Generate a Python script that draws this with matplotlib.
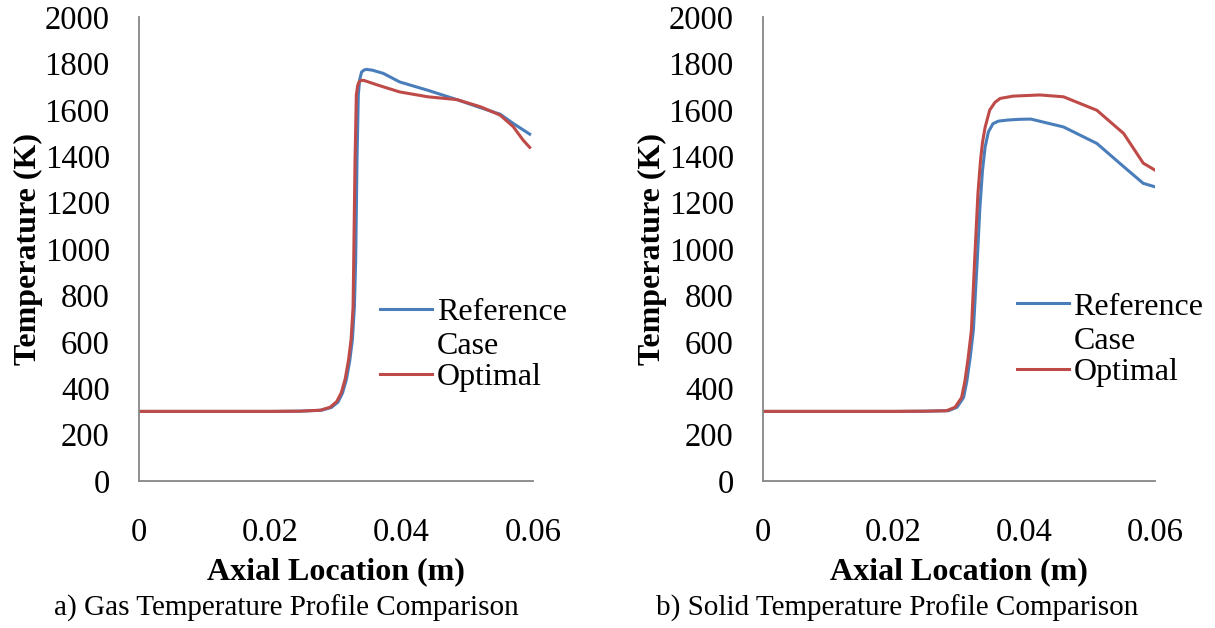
import matplotlib
matplotlib.use("Agg")
import matplotlib.pyplot as plt
from matplotlib.lines import Line2D

# ---- data ----
gas_ref_x = [0, 0.010, 0.020, 0.0245, 0.0278, 0.0293, 0.0303, 0.0310, 0.0316, 0.0321, 0.0325,
             0.0328, 0.0330, 0.0332, 0.0334, 0.0336, 0.0339, 0.0343, 0.0347, 0.0355, 0.0372,
             0.0397, 0.0440, 0.0484, 0.0520, 0.0550, 0.0570, 0.0595]
gas_ref_T = [300, 300, 300, 301, 305, 317, 340, 380, 440, 520, 610,
             750, 955, 1385, 1665, 1730, 1763, 1772, 1774, 1771, 1757,
             1720, 1684, 1644, 1609, 1581, 1541, 1495]

gas_opt_x = [0, 0.010, 0.020, 0.0245, 0.0276, 0.0291, 0.0301, 0.0308, 0.0314, 0.0319, 0.0323,
             0.0326, 0.0327, 0.0329, 0.0331, 0.0333, 0.0335, 0.0338, 0.0342, 0.0360, 0.0372,
             0.0397, 0.0440, 0.0484, 0.0520, 0.0550, 0.0570, 0.0585, 0.0595]
gas_opt_T = [300, 300, 300, 301, 305, 318, 342, 380, 440, 520, 610,
             750, 955, 1385, 1665, 1705, 1720, 1726, 1727, 1710, 1699,
             1677, 1656, 1644, 1613, 1577, 1527, 1469, 1438]

sol_ref_x = [0, 0.010, 0.020, 0.025, 0.0284, 0.0297, 0.0307, 0.0312, 0.0317, 0.0322, 0.0328,
             0.0332, 0.0336, 0.0340, 0.0345, 0.0352, 0.0360, 0.0375, 0.0393, 0.0410, 0.0460,
             0.0511, 0.0552, 0.0582, 0.0600]
sol_ref_T = [300, 300, 300, 301, 303, 318, 360, 430, 530, 650, 955,
             1180, 1340, 1440, 1505, 1540, 1551, 1556, 1559, 1560, 1526,
             1455, 1355, 1283, 1268]

sol_opt_x = [0, 0.010, 0.020, 0.025, 0.0281, 0.0294, 0.0304, 0.0309, 0.0314, 0.0319, 0.0324,
             0.0329, 0.0333, 0.0336, 0.0340, 0.0347, 0.0355, 0.0363, 0.0383, 0.0424, 0.0460,
             0.0511, 0.0552, 0.0582, 0.0600]
sol_opt_T = [300, 300, 300, 301, 303, 318, 360, 430, 530, 650, 955,
             1240, 1384, 1460, 1525, 1599, 1632, 1649, 1659, 1664, 1656,
             1598, 1498, 1370, 1340]

series_labels = ["Reference", "Case", "Optimal"]
x_ticks = [0, 0.02, 0.04, 0.06]
x_tick_labels = ["0", "0.02", "0.04", "0.06"]
y_ticks = list(range(0, 2001, 200))
xlabel = "Axial Location (m)"
ylabel = "Temperature (K)"
captions = ["a) Gas Temperature Profile Comparison", "b) Solid Temperature Profile Comparison"]

BLUE = "#4A7EBB"
RED = "#BE4B48"
SPINE = "#868686"

plt.rcParams["font.family"] = ["Liberation Serif", "DejaVu Serif"]

fig = plt.figure(figsize=(12.15, 6.28), dpi=100)
ax1 = fig.add_axes([139/1215, 1-481/628, 394/1215, 464/628])
ax2 = fig.add_axes([763/1215, 1-481/628, 392/1215, 464/628])

panels = [
    (ax1, gas_ref_x, gas_ref_T, gas_opt_x, gas_opt_T, (0.612, 0.294)),
    (ax2, sol_ref_x, sol_ref_T, sol_opt_x, sol_opt_T, (0.647, 0.305)),
]

for ax, rx, rT, ox, oT, lpos in panels:
    ax.plot(rx, rT, color=BLUE, lw=2.2)
    ax.plot(ox, oT, color=RED, lw=2.2)
    ax.set_xlim(0, 0.06)
    ax.set_ylim(0, 2000)
    ax.set_xticks(x_ticks)
    ax.set_xticklabels(x_tick_labels)
    ax.set_yticks(y_ticks)
    for s in ["top", "right"]:
        ax.spines[s].set_visible(False)
    for s in ["left", "bottom"]:
        ax.spines[s].set_color(SPINE)
        ax.spines[s].set_linewidth(1.3)
    ax.tick_params(axis="both", length=0, labelsize=23.5)
    ax.tick_params(axis="y", pad=21)
    ax.tick_params(axis="x", pad=26)
    ax.set_xlabel(xlabel, fontsize=23, fontweight="bold", labelpad=7)
    ax.set_ylabel(ylabel, fontsize=23, fontweight="bold", labelpad=1)
    handles = [Line2D([], [], color=BLUE, lw=2.2),
               Line2D([], [], color="none", lw=0),
               Line2D([], [], color=RED, lw=2.2)]
    leg = ax.legend(handles, series_labels, loc="center left", bbox_to_anchor=lpos,
                    frameon=False, fontsize=23, labelspacing=0.1, handlelength=1.63,
                    handletextpad=0.15, borderpad=0, borderaxespad=0)
    leg.get_texts()[1].set_y(-2)

fig.text(286/1215, 1-608/628, captions[0], ha="center", va="center", fontsize=21)
fig.text(897/1215, 1-608/628, captions[1], ha="center", va="center", fontsize=21)

fig.savefig("out.png", dpi=100)
